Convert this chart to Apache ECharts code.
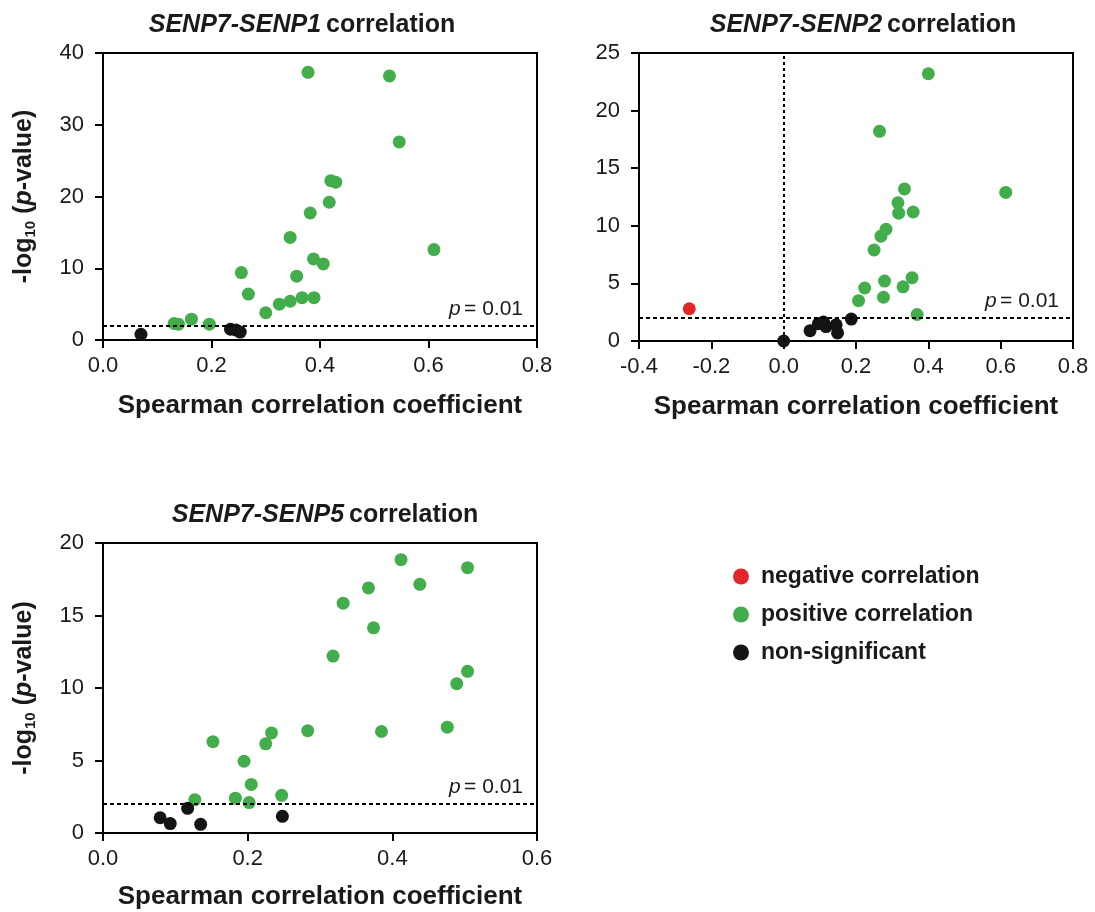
<!DOCTYPE html>
<html>
<head>
<meta charset="utf-8">
<title>SENP7 correlations</title>
<script src="https://cdn.jsdelivr.net/npm/echarts@6/dist/echarts.min.js"></script>
<style>
  html, body { margin: 0; padding: 0; background: #fff; }
  #chart { width: 1095px; height: 912px; }
</style>
</head>
<body>
<div id="chart"></div>
<script>
// [Spearman r, -log10 p]
var senp1Pos = [[0.131, 2.3], [0.139, 2.2], [0.163, 2.9], [0.196, 2.2], [0.255, 9.4], [0.268, 6.4],
  [0.300, 3.8], [0.325, 5.0], [0.345, 5.4], [0.367, 5.9], [0.389, 5.9], [0.357, 8.9],
  [0.388, 11.3], [0.406, 10.6], [0.345, 14.3], [0.382, 17.7], [0.417, 19.2], [0.420, 22.2],
  [0.429, 22.0], [0.378, 37.3], [0.528, 36.8], [0.546, 27.6], [0.610, 12.6]];
var senp1Ns = [[0.070, 0.8], [0.235, 1.5], [0.245, 1.4], [0.253, 1.1]];

var senp2Neg = [[-0.261, 2.8]];
var senp2Pos = [[0.207, 3.5], [0.224, 4.6], [0.279, 5.2], [0.276, 3.8], [0.330, 4.7], [0.355, 5.5],
  [0.369, 2.3], [0.250, 7.9], [0.269, 9.1], [0.283, 9.7], [0.318, 11.1], [0.316, 12.0],
  [0.358, 11.2], [0.334, 13.2], [0.265, 18.2], [0.400, 23.2], [0.614, 12.9]];
var senp2Ns = [[0.0, 0.0], [0.073, 0.9], [0.096, 1.5], [0.110, 1.65], [0.117, 1.25], [0.145, 1.4],
  [0.149, 0.7], [0.187, 1.9]];

var senp5Pos = [[0.127, 2.3], [0.152, 6.3], [0.183, 2.4], [0.202, 2.1], [0.205, 3.35], [0.195, 4.95],
  [0.225, 6.15], [0.233, 6.9], [0.247, 2.6], [0.283, 7.05], [0.318, 12.2], [0.332, 15.85],
  [0.367, 16.9], [0.374, 14.15], [0.385, 7.0], [0.412, 18.85], [0.438, 17.15], [0.476, 7.3],
  [0.489, 10.3], [0.504, 11.15], [0.504, 18.3]];
var senp5Ns = [[0.079, 1.05], [0.093, 0.65], [0.117, 1.7], [0.135, 0.6], [0.248, 1.15]];

var pThreshold = 2; // -log10(0.01)

var FONT = 'Liberation Sans, Arial, Helvetica, sans-serif';
var RED = '#e3262a', GREEN = '#43ad4b', BLACK = '#141414';
var INK = '#1a1a1a';

var myChart = echarts.init(document.getElementById('chart'));

function makeTitle(gene, left, top) {
  return {
    text: '{i|SENP7-' + gene + '} {b|correlation}',
    left: left,
    top: top,
    textAlign: 'center',
    textStyle: {
      rich: {
        i: { fontFamily: FONT, fontSize: 25, fontWeight: 'bold', fontStyle: 'italic', color: INK },
        b: { fontFamily: FONT, fontSize: 25, fontWeight: 'bold', color: INK }
      }
    }
  };
}

function makeX(gi, min, max, gap) {
  return {
    gridIndex: gi,
    type: 'value',
    min: min,
    max: max,
    interval: 0.2,
    name: 'Spearman correlation coefficient',
    nameLocation: 'middle',
    nameGap: gap,
    nameTextStyle: { fontFamily: FONT, fontSize: 26, fontWeight: 'bold', color: INK },
    axisLine: { show: true, onZero: false, lineStyle: { color: '#000', width: 2 } },
    axisTick: { show: true, length: 8, lineStyle: { color: '#000', width: 2 } },
    splitLine: { show: false },
    axisLabel: {
      fontFamily: FONT, fontSize: 22, color: INK, margin: 15,
      formatter: function (v) { return v.toFixed(1); }
    }
  };
}

function makeY(gi, max, interval, withName) {
  var ax = {
    gridIndex: gi,
    type: 'value',
    min: 0,
    max: max,
    interval: interval,
    axisLine: { show: true, onZero: false, lineStyle: { color: '#000', width: 2 } },
    axisTick: { show: true, length: 8, lineStyle: { color: '#000', width: 2 } },
    splitLine: { show: false },
    axisLabel: { fontFamily: FONT, fontSize: 22, color: INK, margin: 19 }
  };
  if (withName) {
    ax.name = '-log{sub|10} ({i|p}-value)';
    ax.nameLocation = 'middle';
    ax.nameGap = 65;
    ax.nameRotate = 90;
    ax.nameTextStyle = {
      fontFamily: FONT, fontSize: 25, fontWeight: 'bold', color: INK, lineHeight: 28,
      rich: {
        sub: { fontFamily: FONT, fontSize: 15, fontWeight: 'bold', color: INK, lineHeight: 15, verticalAlign: 'bottom' },
        i: { fontFamily: FONT, fontSize: 25, fontWeight: 'bold', fontStyle: 'italic', color: INK, lineHeight: 28 }
      }
    };
  }
  return ax;
}

function pLine() {
  return {
    silent: true,
    symbol: 'none',
    lineStyle: { color: '#000', width: 2, type: [4, 3] },
    label: {
      show: true,
      position: 'insideEndTop',
      distance: [14, 6],
      formatter: '{i|p} {n|= 0.01}',
      rich: {
        i: { fontFamily: FONT, fontSize: 21, fontStyle: 'italic', color: INK },
        n: { fontFamily: FONT, fontSize: 21, color: INK }
      }
    },
    data: [{ yAxis: pThreshold }]
  };
}

var zeroLine = {
  silent: true,
  symbol: 'none',
  lineStyle: { color: '#000', width: 2, type: [3, 3] },
  label: { show: false },
  data: [{ xAxis: 0 }]
};

function dots(name, color, gi, data, extra) {
  var s = {
    name: name,
    type: 'scatter',
    xAxisIndex: gi,
    yAxisIndex: gi,
    symbol: 'circle',
    symbolSize: 13,
    itemStyle: { color: color, opacity: 1 },
    emphasis: { disabled: true },
    data: data
  };
  if (extra) s.markLine = extra;
  return s;
}

option = {
  backgroundColor: '#fff',
  animation: false,
  title: [
    makeTitle('SENP1', 297, 8),
    makeTitle('SENP2', 858, 8),
    makeTitle('SENP5', 320, 498)
  ],
  legend: {
    orient: 'vertical',
    left: 728,
    top: 560,
    icon: 'circle',
    itemWidth: 16,
    itemHeight: 16,
    itemGap: 15,
    selectedMode: false,
    data: ['negative correlation', 'positive correlation', 'non-significant'],
    textStyle: { fontFamily: FONT, fontSize: 23, fontWeight: 'bold', color: INK, padding: [0, 0, 0, 7] }
  },
  grid: [
    { left: 103, top: 53, width: 434, height: 287, show: true, borderColor: '#000', borderWidth: 2, backgroundColor: 'transparent' },
    { left: 639, top: 53, width: 434, height: 288, show: true, borderColor: '#000', borderWidth: 2, backgroundColor: 'transparent' },
    { left: 103, top: 543, width: 434, height: 290, show: true, borderColor: '#000', borderWidth: 2, backgroundColor: 'transparent' }
  ],
  xAxis: [makeX(0, 0, 0.8, 53), makeX(1, -0.4, 0.8, 53), makeX(2, 0, 0.6, 51)],
  yAxis: [makeY(0, 40, 10, true), makeY(1, 25, 5, false), makeY(2, 20, 5, true)],
  series: [
    dots('positive correlation', GREEN, 0, senp1Pos),
    dots('non-significant', BLACK, 0, senp1Ns, pLine()),

    dots('negative correlation', RED, 1, senp2Neg),
    dots('positive correlation', GREEN, 1, senp2Pos, zeroLine),
    dots('non-significant', BLACK, 1, senp2Ns, pLine()),

    dots('positive correlation', GREEN, 2, senp5Pos),
    dots('non-significant', BLACK, 2, senp5Ns, pLine())
  ]
};

myChart.setOption(option);
</script>
</body>
</html>
